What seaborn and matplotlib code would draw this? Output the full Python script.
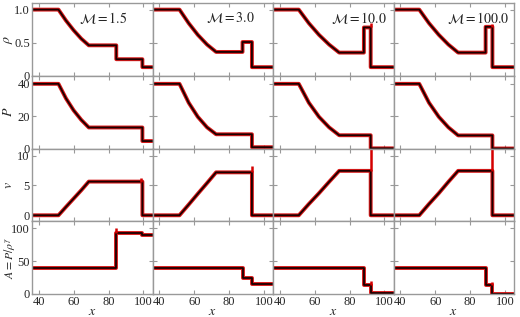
import numpy as np
import pandas as pd
import matplotlib
matplotlib.use("Agg")
import matplotlib.pyplot as plt
import seaborn as sns

# ---- values (shock tube, four Mach numbers) ----
mach = [1.5, 3.0, 10.0, 100.0]
x_left, x_right = 36.0, 105.2

# wave positions per column
x_head = [51.2, 51.5, 50.8, 50.8]
x_fan = [[55.5, 59.9, 64.3], [56.8, 62.0, 67.3], [56.6, 62.4, 68.2], [56.4, 62.0, 67.5]]
x_tail = [68.6, 72.5, 74.0, 73.1]
x_contact = [84.4, 87.7, 88.2, 88.9]
x_shock = [99.4, 93.1, 92.1, 92.8]

# density
rho_left = [1.0, 1.0, 1.0, 1.0]
rho_fan = [[0.835, 0.688, 0.560], [0.794, 0.619, 0.472], [0.794, 0.619, 0.472], [0.794, 0.619, 0.472]]
rho_tail = [0.46, 0.36, 0.35, 0.35]
rho_post = [0.25, 0.51, 0.73, 0.74]
rho_right = [0.13, 0.13, 0.13, 0.13]

# pressure
p_left = [40.0, 40.0, 40.0, 40.0]
p_fan = [[31.0, 23.6, 17.7], [28.3, 19.6, 13.1], [28.3, 19.6, 13.1], [28.3, 19.6, 13.1]]
p_tail = [13.0, 8.8, 8.2, 8.1]
p_right = [4.6, 0.8, 0.1, 0.0]

# velocity
v_left = [0.0, 0.0, 0.0, 0.0]
v_fan = [[1.4, 2.8, 4.2], [1.8, 3.6, 5.4], [1.9, 3.7, 5.6], [1.9, 3.7, 5.6]]
v_tail = [5.65, 7.2, 7.45, 7.45]
v_right = [0.0, 0.0, 0.0, 0.0]

# entropy A = P / rho^gamma
a_left = [40.3, 40.0, 40.0, 40.0]
a_post = [93.5, 25.0, 13.6, 13.0]
a_right = [90.5, 15.0, 1.0, 0.5]

# scatter overshoots of the simulation points (column, row, x, y0, y1)
spike_col = [0, 0, 1, 2, 3, 2, 3, 2, 3]
spike_row = [2, 3, 2, 2, 2, 0, 0, 3, 3]
spike_x = [98.8, 84.4, 93.1, 92.1, 92.8, 92.0, 92.6, 92.0, 92.6]
spike_y0 = [5.6, 93.5, 7.2, 7.45, 7.45, 0.73, 0.74, 13.6, 13.0]
spike_y1 = [6.3, 100.0, 8.3, 11.2, 11.2, 0.80, 0.78, 20.0, 19.0]

row_labels = [r"$\rho$", r"$P$", r"$v$", r"$A = P/\rho^{\gamma}$"]
row_label_size = [10, 10, 10, 8.5]
row_label_x = [-0.14, -0.14, -0.14, -0.125]
row_ylim = [(0, 1.1), (0, 45), (-1, 11.2), (0, 111)]
row_ticks = [[0, 0.5, 1.0], [0, 20, 40], [0, 5, 10], [0, 50, 100]]
row_ticklabels = [["0", "0.5", "1.0"], ["0", "20", "40"], ["0", "5", "10"], ["0", "50", "100"]]
x_ticks = [40, 60, 80, 100]
label_xpos = [0.59, 0.65, 0.71, 0.70]


def profile(i, left, fan, tail, post, right):
    xs = [x_left, x_head[i], *x_fan[i], x_tail[i], x_contact[i], x_contact[i],
          x_shock[i], x_shock[i], x_right]
    ys = [left, left, *fan, tail, tail, post, post, right, right]
    return pd.DataFrame({"x": xs, "y": ys})


sns.set_style("ticks")
plt.rcParams["font.family"] = ["Liberation Serif", "DejaVu Serif"]
plt.rcParams["mathtext.fontset"] = "stix"

fig, axes = plt.subplots(4, 4, figsize=(5.2, 3.17), dpi=100)
fig.subplots_adjust(left=32 / 520, right=514 / 520, top=1 - 3 / 317,
                    bottom=1 - 294 / 317, wspace=0, hspace=0)

red = "#d40000"
for c in range(4):
    frames = [
        profile(c, rho_left[c], rho_fan[c], rho_tail[c], rho_post[c], rho_right[c]),
        profile(c, p_left[c], p_fan[c], p_tail[c], p_tail[c], p_right[c]),
        profile(c, v_left[c], v_fan[c], v_tail[c], v_tail[c], v_right[c]),
        profile(c, a_left[c], [a_left[c]] * 3, a_left[c], a_post[c], a_right[c]),
    ]
    for r in range(4):
        ax = axes[r, c]
        df = frames[r]
        sns.lineplot(data=df, x="x", y="y", ax=ax, color=red, lw=2.8,
                     sort=False, estimator=None, alpha=0.9)
        sns.lineplot(data=df, x="x", y="y", ax=ax, color="#1a0000", lw=1.3,
                     sort=False, estimator=None)
        for k in range(len(spike_x)):
            if spike_col[k] == c and spike_row[k] == r:
                ax.vlines(spike_x[k], spike_y0[k], spike_y1[k], color=red, lw=1.8)

        ax.set_xlim(x_left, x_right)
        ax.set_ylim(*row_ylim[r])
        ax.set_xticks(x_ticks)
        ax.set_yticks(row_ticks[r])
        ax.tick_params(direction="in", top=True, right=True, length=3,
                       color="#999999", labelsize=9, pad=1.5)
        for s in ax.spines.values():
            s.set_color("#999999")
            s.set_linewidth(1.0)
        if c == 0:
            ax.set_yticklabels(row_ticklabels[r])
            ax.set_ylabel(row_labels[r], fontsize=row_label_size[r])
            ax.yaxis.set_label_coords(row_label_x[r], 0.5)
        else:
            ax.set_yticklabels([])
            ax.set_ylabel("")
        if r == 3:
            ax.set_xticklabels([str(t) for t in x_ticks])
            ax.set_xlabel(r"$x$", fontsize=10)
            ax.xaxis.set_label_coords(0.5, -0.15)
        else:
            ax.set_xticklabels([])
            ax.set_xlabel("")
    axes[0, c].text(label_xpos[c], 0.80, r"$\mathcal{M} = %.1f$" % mach[c],
                    transform=axes[0, c].transAxes, ha="center", va="center",
                    fontsize=10)

fig.savefig("out.png", dpi=100)
